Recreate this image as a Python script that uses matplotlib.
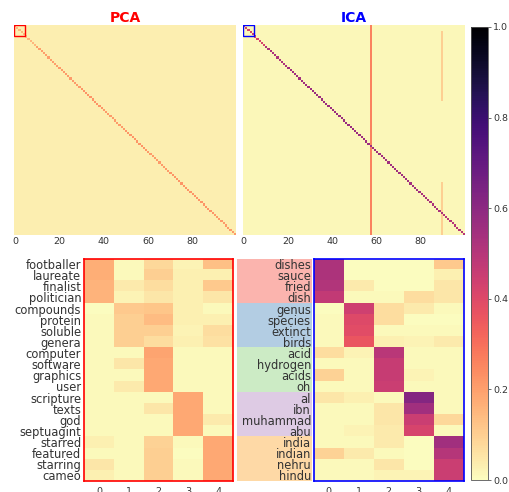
import numpy as np
import matplotlib
matplotlib.use("Agg")
import matplotlib.pyplot as plt
from matplotlib.patches import Rectangle
from matplotlib.colors import ListedColormap

# -----------------------------
# Data
# -----------------------------
n_dims = 100

# full 100x100 matrices (background level, diagonal levels per block of 10)
pca_background = 0.035
pca_diag_blocks = [0.15, 0.20, 0.21, 0.22, 0.21, 0.22, 0.21, 0.22, 0.22, 0.21]

ica_background = 0.015
ica_diag_blocks = [0.42, 0.52, 0.55, 0.56, 0.57, 0.56, 0.55, 0.55, 0.53, 0.50]

# ICA columns that light up (column, first row, last row, value)
ica_stripes = [(57, 0, 100, 0.26), (89, 3, 36, 0.10), (89, 75, 100, 0.10)]

# zoomed 20 words x 5 dimensions
pca_words = ["footballer", "laureate", "finalist", "politician",
             "compounds", "protein", "soluble", "genera",
             "computer", "software", "graphics", "user",
             "scripture", "texts", "god", "septuagint",
             "starred", "featured", "starring", "cameo"]

pca_vals = [
    [0.17, 0.01, 0.08, 0.02, 0.13],
    [0.17, 0.01, 0.10, 0.03, 0.03],
    [0.16, 0.04, 0.07, 0.03, 0.11],
    [0.16, 0.02, 0.05, 0.03, 0.05],
    [0.00, 0.11, 0.12, 0.03, 0.01],
    [0.01, 0.10, 0.14, 0.03, 0.03],
    [0.01, 0.10, 0.10, 0.02, 0.07],
    [0.01, 0.10, 0.07, 0.03, 0.06],
    [0.01, 0.01, 0.19, 0.01, 0.01],
    [0.01, 0.05, 0.18, 0.01, 0.01],
    [0.01, 0.01, 0.18, 0.01, 0.01],
    [0.01, 0.04, 0.18, 0.01, 0.01],
    [0.01, 0.01, 0.01, 0.18, 0.01],
    [0.01, 0.01, 0.05, 0.18, 0.01],
    [0.01, 0.01, 0.01, 0.18, 0.04],
    [0.01, 0.01, 0.01, 0.18, 0.01],
    [0.03, 0.01, 0.09, 0.01, 0.18],
    [0.01, 0.01, 0.10, 0.00, 0.18],
    [0.05, 0.01, 0.10, 0.01, 0.18],
    [0.03, 0.01, 0.10, 0.01, 0.18],
]

ica_words = ["dishes", "sauce", "fried", "dish",
             "genus", "species", "extinct", "birds",
             "acid", "hydrogen", "acids", "oh",
             "al", "ibn", "muhammad", "abu",
             "india", "indian", "nehru", "hindu"]

ica_vals = [
    [0.52, 0.00, 0.00, 0.00, 0.11],
    [0.52, 0.00, 0.00, 0.00, 0.03],
    [0.51, 0.04, 0.00, 0.00, 0.05],
    [0.47, 0.01, 0.01, 0.07, 0.05],
    [0.00, 0.44, 0.07, 0.04, 0.01],
    [0.01, 0.40, 0.07, 0.00, 0.00],
    [0.01, 0.39, 0.01, 0.01, 0.01],
    [0.01, 0.36, 0.03, 0.02, 0.04],
    [0.07, 0.02, 0.49, 0.01, 0.01],
    [0.01, 0.01, 0.46, 0.01, 0.01],
    [0.09, 0.01, 0.46, 0.02, 0.01],
    [0.01, 0.01, 0.45, 0.01, 0.01],
    [0.05, 0.03, 0.01, 0.62, 0.01],
    [0.01, 0.01, 0.05, 0.55, 0.01],
    [0.01, 0.01, 0.05, 0.45, 0.08],
    [0.01, 0.02, 0.04, 0.42, 0.01],
    [0.01, 0.01, 0.04, 0.00, 0.55],
    [0.09, 0.04, 0.01, 0.00, 0.50],
    [0.01, 0.01, 0.05, 0.00, 0.45],
    [0.01, 0.01, 0.02, 0.02, 0.45],
]

group_colors = ["#fbb4ae", "#b3cde3", "#ccebc5", "#decbe4", "#fed9a6"]
group_size = 4

# -----------------------------
# Build full matrices
# -----------------------------
pca_full = np.full((n_dims, n_dims), pca_background)
np.fill_diagonal(pca_full, np.repeat(pca_diag_blocks, 10))

ica_full = np.full((n_dims, n_dims), ica_background)
for col, r0, r1, v in ica_stripes:
    ica_full[r0:r1, col] = v
np.fill_diagonal(ica_full, np.repeat(ica_diag_blocks, 10))

# -----------------------------
# Figure
# -----------------------------
W, H = 510, 492
fig = plt.figure(figsize=(W / 100, H / 100), dpi=100)


def px_axes(x0, y0, x1, y1):
    return fig.add_axes([x0 / W, 1 - y1 / H, (x1 - x0) / W, (y1 - y0) / H])


cmap = "magma_r"
text_color = "#333333"
tick_fs = 6.8
word_fs = 8.3

# top heatmaps
ax_pca = px_axes(14, 25, 236, 235)
ax_ica = px_axes(242.7, 25, 464, 235)

for ax, mat, title, col in [(ax_pca, pca_full, "PCA", "red"),
                            (ax_ica, ica_full, "ICA", "blue")]:
    im = ax.imshow(mat, cmap=cmap, vmin=0, vmax=1, aspect="auto",
                   interpolation="nearest")
    ax.set_title(title, color=col, fontweight="bold", fontsize=10, pad=2)
    ax.set_xticks([0, 20, 40, 60, 80])
    ax.set_yticks([])
    ax.tick_params(axis="x", length=0, pad=1.5, labelsize=tick_fs,
                   labelcolor=text_color)
    for s in ax.spines.values():
        s.set_visible(False)
    ax.add_patch(Rectangle((-0.5, -0.5), 5, 5, fill=False, edgecolor=col,
                           linewidth=1.0))

# label patch axis for ICA words
ax_lab = px_axes(236.7, 258.5, 311.5, 481)
ax_lab.imshow(np.repeat(np.arange(len(group_colors)), group_size)[:, None],
              cmap=ListedColormap(group_colors), aspect="auto",
              interpolation="nearest")
ax_lab.set_xticks([])
ax_lab.set_yticks([])
for s in ax_lab.spines.values():
    s.set_visible(False)

# bottom heatmaps
ax_pca_z = px_axes(84, 258.5, 233, 481)
ax_ica_z = px_axes(313.7, 258.5, 463.7, 481)

for ax, vals, words, col in [(ax_pca_z, pca_vals, pca_words, "red"),
                             (ax_ica_z, ica_vals, ica_words, "blue")]:
    ax.imshow(np.array(vals), cmap=cmap, vmin=0, vmax=1, aspect="auto",
              interpolation="nearest")
    ax.set_xticks(range(5))
    ax.set_yticks(range(len(words)))
    ax.set_yticklabels(words)
    ax.tick_params(axis="x", length=0, pad=4, labelsize=tick_fs,
                   labelcolor=text_color)
    ax.tick_params(axis="y", length=0, pad=2, labelsize=word_fs,
                   labelcolor=text_color)
    for s in ax.spines.values():
        s.set_edgecolor(col)
        s.set_linewidth(1.2)

# colorbar
cax = px_axes(471, 27, 488.5, 480)
cb = fig.colorbar(im, cax=cax)
cb.set_ticks([0.0, 0.2, 0.4, 0.6, 0.8, 1.0])
cb.ax.tick_params(labelsize=tick_fs, labelcolor=text_color, length=2.5,
                  width=0.6, pad=1, color="#555555")
cb.outline.set_edgecolor("#555555")
cb.outline.set_linewidth(0.6)

fig.savefig("out.png", dpi=100)
